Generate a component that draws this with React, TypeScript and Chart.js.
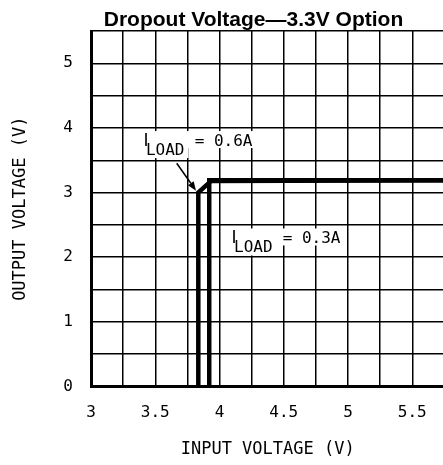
import React, { useEffect, useRef } from "react";
import { Chart, registerables } from "chart.js";

Chart.register(...registerables);

// ---- data ----
const titleText = "Dropout Voltage\u20143.3V Option";
const xAxisTitle = "INPUT VOLTAGE (V)";
const yAxisTitle = "OUTPUT VOLTAGE (V)";

const xMin = 3;
const xMax = 5.75;
const xStep = 0.25;
const yMin = 0;
const yMax = 5.5;
const yStep = 0.5;

// I_LOAD = 0.3A curve (input V, output V)
const load03Input = [3.92, 3.92, 5.75];
const load03Output = [0, 3.19, 3.19];

// I_LOAD = 0.6A curve
const load06Input = [3.835, 3.835, 3.935, 5.75];
const load06Output = [0, 3.0, 3.18, 3.19];

// annotation anchors (data units)
const labelValues = ["0.6A", "0.3A"];
const labelAnchorX = [3.42, 4.105];
const labelAnchorY = [3.72, 2.213];
const arrowFrom = [3.667, 3.454];
const arrowTo = [3.817, 3.03];

const MONO = "'DejaVu Sans Mono', monospace";

const toPoints = (xs: number[], ys: number[]) => xs.map((x, i) => ({ x, y: ys[i] }));

const annotationPlugin = {
  id: "annotations",
  afterDraw(chart: any) {
    const { ctx, scales } = chart;
    const xs = scales.x;
    const ys = scales.y;
    ctx.save();

    // title
    ctx.fillStyle = "#000";
    ctx.font = "bold 21px 'Liberation Sans', Arial, sans-serif";
    ctx.textAlign = "center";
    ctx.textBaseline = "alphabetic";
    ctx.fillText(titleText, 253.5, 26);

    // labels
    ctx.textAlign = "left";
    labelValues.forEach((val, i) => {
      const px = xs.getPixelForValue(labelAnchorX[i]);
      const py = ys.getPixelForValue(labelAnchorY[i]);
      const rest = "= " + val;
      ctx.font = "16px " + MONO;
      const restW = ctx.measureText(rest).width;
      const subW = ctx.measureText("LOAD").width;
      ctx.fillStyle = "#fff";
      ctx.fillRect(px - 4, py - 15, 50 + restW + 6, 17);
      ctx.fillRect(px + 1, py - 4, subW + 4, 16);
      ctx.fillStyle = "#000";
      ctx.font = "17px 'DejaVu Sans', sans-serif";
      ctx.fillText("I", px - 1.5, py);
      ctx.font = "16px " + MONO;
      ctx.fillText("LOAD", px + 1, py + 9);
      ctx.fillText(rest, px + 49.7, py);
    });

    // arrow
    const ax0 = xs.getPixelForValue(arrowFrom[0]);
    const ay0 = ys.getPixelForValue(arrowFrom[1]);
    const ax1 = xs.getPixelForValue(arrowTo[0]);
    const ay1 = ys.getPixelForValue(arrowTo[1]);
    const ang = Math.atan2(ay1 - ay0, ax1 - ax0);
    const hl = 9;
    const hw = 3.5;
    const bx = ax1 - hl * Math.cos(ang);
    const by = ay1 - hl * Math.sin(ang);
    ctx.strokeStyle = "#000";
    ctx.lineWidth = 1.5;
    ctx.beginPath();
    ctx.moveTo(ax0, ay0);
    ctx.lineTo(bx, by);
    ctx.stroke();
    ctx.beginPath();
    ctx.moveTo(ax1, ay1);
    ctx.lineTo(bx + hw * Math.sin(ang), by - hw * Math.cos(ang));
    ctx.lineTo(bx - hw * Math.sin(ang), by + hw * Math.cos(ang));
    ctx.closePath();
    ctx.fill();
    ctx.restore();
  },
};

export default function App() {
  const ref = useRef<HTMLCanvasElement | null>(null);

  useEffect(() => {
    document.body.style.margin = "0";
    const canvas = ref.current;
    if (!canvas) return;
    const lineStyle = {
      borderColor: "#000",
      backgroundColor: "#000",
      borderWidth: 4.5,
      pointRadius: 0,
      showLine: true,
      tension: 0,
      borderJoinStyle: "miter" as const,
      borderCapStyle: "butt" as const,
    };
    const chart = new Chart(canvas, {
      type: "scatter",
      data: {
        datasets: [
          { label: "0.3A", data: toPoints(load03Input, load03Output), ...lineStyle },
          { label: "0.6A", data: toPoints(load06Input, load06Output), ...lineStyle },
        ],
      },
      options: {
        animation: false,
        responsive: false,
        devicePixelRatio: 1,
        layout: { padding: { top: 31, left: 0, right: 1.6, bottom: 0 } },
        plugins: {
          legend: { display: false },
          tooltip: { enabled: false },
          title: { display: false },
        },
        scales: {
          x: {
            type: "linear",
            min: xMin,
            max: xMax,
            afterFit: (s: any) => {
              s.height = 78.5;
              s.paddingLeft = 0;
              s.paddingRight = 0;
            },
            ticks: {
              stepSize: xStep,
              autoSkip: false,
              maxRotation: 0,
              padding: 17,
              color: "#000",
              font: { family: MONO, size: 16 },
              callback: (v: any) => {
                const n = Number(v);
                return Math.abs(n * 2 - Math.round(n * 2)) < 1e-6 ? String(n) : "";
              },
            },
            grid: { color: "#000", lineWidth: 1.5, drawTicks: false },
            border: { color: "#000", width: 3 },
            title: {
              display: true,
              text: xAxisTitle,
              color: "#000",
              font: { family: MONO, size: 17 },
              padding: { top: 0, bottom: 5 },
            },
          },
          y: {
            type: "linear",
            min: yMin,
            max: yMax,
            afterFit: (s: any) => {
              s.width = 91;
              s.paddingTop = 0;
              s.paddingBottom = 0;
            },
            ticks: {
              stepSize: yStep,
              autoSkip: false,
              padding: 18,
              color: "#000",
              font: { family: MONO, size: 16 },
              callback: (v: any) => {
                const n = Number(v);
                return Math.abs(n - Math.round(n)) < 1e-6 ? String(n) : "";
              },
            },
            grid: { color: "#000", lineWidth: 1.5, drawTicks: false },
            border: { color: "#000", width: 3 },
            title: {
              display: true,
              text: yAxisTitle,
              color: "#000",
              font: { family: MONO, size: 17 },
              padding: { top: 10, bottom: 0 },
            },
          },
        },
      },
      plugins: [annotationPlugin],
    });
    return () => chart.destroy();
  }, []);

  return (
    <div style={{ position: "fixed", left: 0, top: 0, width: 443, height: 465, overflow: "hidden", background: "#fff" }}>
      <canvas ref={ref} width={446} height={465} style={{ display: "block" }} />
    </div>
  );
}
